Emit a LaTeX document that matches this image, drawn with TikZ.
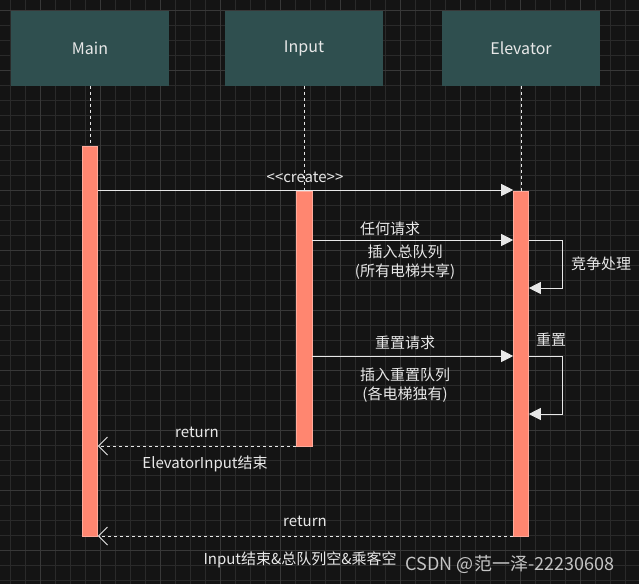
\documentclass[tikz,border=0pt]{standalone}
\usepackage{fontspec}
\setmainfont{Noto Sans CJK SC}
\usetikzlibrary{arrows.meta}
\definecolor{bg}{HTML}{141414}
\definecolor{gridc}{HTML}{2A2A2A}
\definecolor{gridm}{HTML}{383838}
\definecolor{boxc}{HTML}{2F4F4F}
\definecolor{barc}{HTML}{FF8670}
\definecolor{txt}{HTML}{E8E8E8}
\tikzset{
	actor/.style={draw=none, fill=boxc, minimum width=158pt, minimum height=75pt, text=txt, font=\fontsize{16}{18}\selectfont},
	bar/.style={fill=barc, draw=barc!70!white, line width=0.6pt},
	msg/.style={draw=txt, line width=1pt, -{Triangle[length=12pt,width=12pt]}},
	ret/.style={draw=txt, line width=1pt, dashed, -{Straight Barb[length=9pt,width=18pt]}},
	lbl/.style={text=txt, font=\fontsize{15}{19}\selectfont, align=center, inner sep=0pt},
}
\begin{document}
\begin{tikzpicture}[x=1pt, y=-1pt]
	\fill[bg] (0,0) rectangle (639,584);
	\useasboundingbox (0,0) rectangle (639,584);
	% grid
	\foreach \x in {10,25,...,639}
		\draw[gridc, line width=0.4pt] (\x,0) -- (\x,584);
	\foreach \y in {10,25,...,584}
		\draw[gridc, line width=0.4pt] (0,\y) -- (639,\y);
	\foreach \x in {40,100,...,639}
		\draw[gridm, line width=0.6pt] (\x,0) -- (\x,584);
	\foreach \y in {10,70,...,584}
		\draw[gridm, line width=0.6pt] (0,\y) -- (639,\y);

	\node[actor] (main) at (90,48) {Main};
	\node[actor] (input) at (304,48) {Input};
	\node[actor] (elev) at (521,48) {Elevator};

	\foreach \n in {main,input,elev}
		\draw[txt, dashed, line width=1pt] (\n.south) -- ++(0,110);

	\node[bar, minimum width=15pt, minimum height=390pt, inner sep=0pt] (bm) at (90,341) {};
	\node[bar, minimum width=16pt, minimum height=255pt, inner sep=0pt] (bi) at (304,318.5) {};
	\node[bar, minimum width=15pt, minimum height=345pt, inner sep=0pt] (be) at (521,363.5) {};

	\coordinate (c1) at (bm.east |- 0,190);
	\coordinate (c2) at (be.west |- 0,190);
	\draw[msg] (c1) -- (c2);
	\node[lbl] (create) at (305,177) {<{}<create>{}>};

	\coordinate (a1) at (bi.east |- 0,240);
	\coordinate (a2) at (be.west |- 0,240);
	\draw[msg] (a1) -- (a2);
	\node[lbl] (any) at (390,229) {任何请求};
	\node[lbl] (ins1) at (405,262) {插入总队列\\(所有电梯共享)};
	\coordinate (l1) at (be.east |- 0,240);
	\coordinate (l2) at (be.east |- 0,288);
	\draw[msg] (l1) -- ++(34,0) |- (l2);
	\node[lbl] (race) at (601,264) {竞争处理};

	\coordinate (r1) at (bi.east |- 0,356);
	\coordinate (r2) at (be.west |- 0,356);
	\draw[msg] (r1) -- (r2);
	\node[lbl] (reset) at (405,343) {重置请求};
	\node[lbl] (ins2) at (405,385) {插入重置队列\\(各电梯独有)};
	\coordinate (m1) at (be.east |- 0,356);
	\coordinate (m2) at (be.east |- 0,414);
	\draw[msg] (m1) -- ++(34,0) |- (m2);
	\node[lbl] (rs) at (551,340) {重置};

	\coordinate (e1) at (bi.west |- 0,446);
	\coordinate (e2) at (bm.east |- 0,446);
	\draw[ret] (e1) -- (e2);
	\node[lbl] (ret1) at (197,432) {return};
	\node[lbl] (end1) at (205,464) {ElevatorInput结束};

	\coordinate (f1) at (be.west |- 0,536);
	\coordinate (f2) at (bm.east |- 0,536);
	\draw[ret] (f1) -- (f2);
	\node[lbl] (ret2) at (305,521) {return};
	\node[lbl] (end2) at (300,560) {Input结束\&总队列空\&乘客空};
	\node[lbl, text=txt!85!black, font=\fontsize{18}{20}\selectfont] (wm) at (510,564) {CSDN @范一泽-22230608};
\end{tikzpicture}
\end{document}
